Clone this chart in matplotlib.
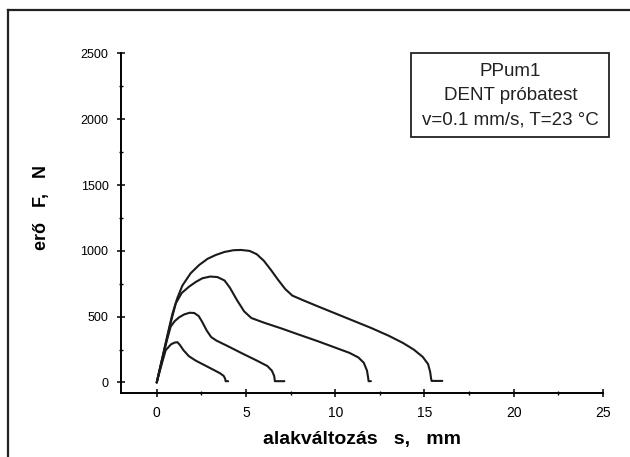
import matplotlib
matplotlib.use("Agg")
import matplotlib.pyplot as plt
from matplotlib.lines import Line2D
from matplotlib.patches import Rectangle
from matplotlib.ticker import MultipleLocator

plt.rcParams['font.family'] = ['Liberation Sans', 'DejaVu Sans']

# Curves (s in mm, F in N)
s1 = [0, 0.25, 0.5, 0.8, 1.0, 1.16, 1.3, 1.5, 1.8, 2.2, 2.7, 3.2, 3.55, 3.75, 3.83, 3.86, 4.0]
f1 = [0, 125, 245, 290, 303, 306, 285, 245, 200, 165, 130, 95, 70, 50, 30, 10, 10]

s2 = [0, 0.3, 0.55, 0.78, 1.0, 1.25, 1.55, 1.85, 2.1, 2.35, 2.55, 2.8, 3.05, 3.35,
      4.0, 4.8, 5.6, 6.2, 6.45, 6.58, 6.62, 7.15]
f2 = [0, 170, 310, 424, 465, 495, 518, 530, 528, 505, 460, 395, 345, 318,
      275, 220, 167, 125, 90, 50, 10, 10]

s3 = [0, 0.3, 0.6, 0.85, 1.07, 1.4, 1.81, 2.2, 2.56, 3.0, 3.4, 3.8, 4.1, 4.5, 4.9,
      5.3, 6.0, 7.0, 8.0, 9.0, 10.0, 10.8, 11.3, 11.6, 11.78, 11.84, 11.87, 12.0]
f3 = [0, 175, 350, 490, 602, 680, 728, 765, 792, 805, 801, 775, 720, 625, 540,
      490, 455, 410, 362, 315, 265, 225, 190, 150, 90, 40, 10, 10]

s4 = [0, 0.3, 0.6, 0.88, 1.15, 1.44, 1.9, 2.38, 2.85, 3.31, 3.8, 4.3, 4.72, 5.2,
      5.6, 6.0, 6.4, 6.8, 7.2, 7.6, 8.2, 9.0, 10.0, 11.0, 12.0, 13.0, 13.8, 14.4,
      14.9, 15.2, 15.32, 15.37, 15.4, 16.0]
f4 = [0, 180, 360, 522, 640, 737, 830, 893, 940, 969, 992, 1005, 1007, 1000,
      975, 925, 855, 780, 710, 660, 625, 580, 525, 470, 415, 355, 300, 250,
      195, 140, 80, 30, 12, 12]

info_lines = ["PPum1", "DENT próbatest", "v=0.1 mm/s, T=23 °C"]

fig = plt.figure(figsize=(6.3, 4.57), dpi=100)
ax = fig.add_axes([0.1921, 0.140, 0.765, 0.743])

for s, f in [(s1, f1), (s2, f2), (s3, f3), (s4, f4)]:
    ax.plot(s, f, color='#1a1a1a', linewidth=1.5, solid_capstyle='round')

ax.set_xlim(-2, 25)
ax.set_ylim(-80, 2500)
ax.xaxis.set_major_locator(MultipleLocator(5))
ax.xaxis.set_minor_locator(MultipleLocator(2.5))
ax.yaxis.set_major_locator(MultipleLocator(500))
ax.yaxis.set_minor_locator(MultipleLocator(250))

ax.spines['top'].set_visible(False)
ax.spines['right'].set_visible(False)
for sp in ['left', 'bottom']:
    ax.spines[sp].set_linewidth(1.4)
ax.tick_params(axis='both', which='major', direction='inout', length=6, width=1.1)
ax.tick_params(axis='both', which='minor', direction='inout', length=3, width=1.0)
ax.tick_params(axis='y', labelsize=9, pad=6)
ax.tick_params(axis='x', labelsize=10, pad=6)

ax.set_xlabel("alakváltozás   s,   mm", fontsize=14, fontweight='bold', labelpad=8)
ax.set_ylabel("erő   F,   N", fontsize=13, fontweight='bold')
ax.yaxis.set_label_coords(-0.147, 0.545)

# info box
fig.add_artist(Rectangle((0.653, 0.700), 0.314, 0.184, transform=fig.transFigure,
                         facecolor='white', edgecolor='#222222', linewidth=1.3))
for txt, yy in zip(info_lines, [0.843, 0.790, 0.737]):
    fig.text(0.81, yy, txt, ha='center', va='center', fontsize=13.5, color='#222222')

# outer frame from the scan (top and left edges)
fig.add_artist(Line2D([0.013, 1.0], [0.978, 0.978], transform=fig.transFigure,
                      color='#222222', linewidth=1.6))
fig.add_artist(Line2D([0.013, 0.013], [0.0, 0.978], transform=fig.transFigure,
                      color='#222222', linewidth=1.6))

fig.savefig("out.png", dpi=100)
